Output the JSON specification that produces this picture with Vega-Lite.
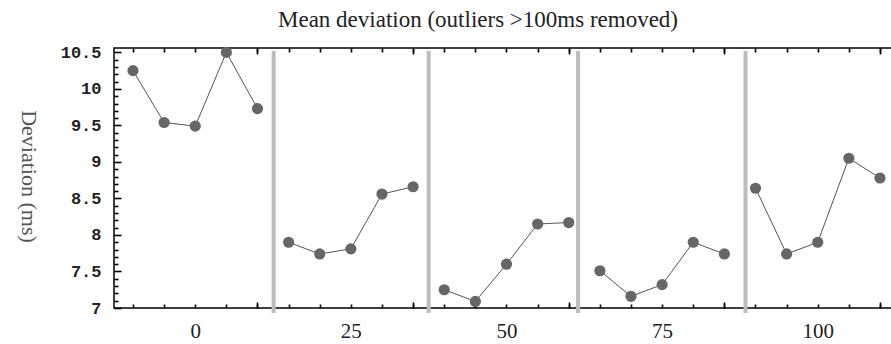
{
  "$schema": "https://vega.github.io/schema/vega-lite/v6.json",
  "autosize": {"type": "none"},
  "width": 778,
  "height": 260,
  "padding": {"left": 114, "top": 48, "right": 0, "bottom": 36},
  "background": "white",
  "config": {"view": {"stroke": "#000000", "strokeWidth": 1.5}, "axis": {"grid": false, "ticks": true, "domain": false, "tickColor": "#000000", "tickOpacity": 1, "tickWidth": 1.6, "zindex": 1}},
  "title": {
    "text": "Mean deviation (outliers >100ms removed)",
    "font": "Liberation Serif",
    "fontSize": 23,
    "fontWeight": "normal",
    "color": "#222222",
    "anchor": "middle",
    "frame": "group",
    "baseline": "alphabetic",
    "offset": -7,
    "dx": -25
  },
  "datasets": {
    "pts": [
      {"x": -10, "y": 10.25, "g": 1}, {"x": -5, "y": 9.54, "g": 1}, {"x": 0, "y": 9.49, "g": 1}, {"x": 5, "y": 10.5, "g": 1}, {"x": 10, "y": 9.73, "g": 1},
      {"x": 15, "y": 7.9, "g": 2}, {"x": 20, "y": 7.74, "g": 2}, {"x": 25, "y": 7.81, "g": 2}, {"x": 30, "y": 8.56, "g": 2}, {"x": 35, "y": 8.66, "g": 2},
      {"x": 40, "y": 7.25, "g": 3}, {"x": 45, "y": 7.09, "g": 3}, {"x": 50, "y": 7.6, "g": 3}, {"x": 55, "y": 8.15, "g": 3}, {"x": 60, "y": 8.17, "g": 3},
      {"x": 65, "y": 7.51, "g": 4}, {"x": 70, "y": 7.16, "g": 4}, {"x": 75, "y": 7.32, "g": 4}, {"x": 80, "y": 7.9, "g": 4}, {"x": 85, "y": 7.74, "g": 4},
      {"x": 90, "y": 8.64, "g": 5}, {"x": 95, "y": 7.74, "g": 5}, {"x": 100, "y": 7.9, "g": 5}, {"x": 105, "y": 9.05, "g": 5}, {"x": 110, "y": 8.78, "g": 5}
    ],
    "seps": [
      {"sx": 12.6, "top": 10.52, "bot": 6.93},
      {"sx": 37.5, "top": 10.52, "bot": 6.93},
      {"sx": 61.5, "top": 10.52, "bot": 6.93},
      {"sx": 88.4, "top": 10.52, "bot": 6.93}
    ]
  },
  "resolve": {"axis": {"x": "independent", "y": "independent"}},
  "layer": [
    {
      "data": {"name": "seps"},
      "mark": {"type": "rule", "color": "#bdbdbd", "strokeWidth": 4, "clip": false},
      "encoding": {
        "x": {
          "field": "sx", "type": "quantitative",
          "scale": {"domain": [-13.05, 111.93], "nice": false, "zero": false},
          "axis": {
            "orient": "top", "title": null, "labels": false, "offset": -4,
            "values": [-10, -5, 0, 5, 10, 15, 20, 25, 30, 35, 40, 45, 50, 55, 60, 65, 70, 75, 80, 85, 90, 95, 100, 105, 110],
            "tickSize": 4
          }
        },
        "y": {
          "field": "top", "type": "quantitative",
          "scale": {"domain": [7, 10.56], "nice": false, "zero": false},
          "axis": {
            "orient": "left", "title": null, "labels": false, "offset": -4,
            "values": [7.1, 7.2, 7.3, 7.4, 7.6, 7.7, 7.8, 7.9, 8.1, 8.2, 8.3, 8.4, 8.6, 8.7, 8.8, 8.9, 9.1, 9.2, 9.3, 9.4, 9.6, 9.7, 9.8, 9.9, 10.1, 10.2, 10.3, 10.4],
            "tickSize": 4
          }
        },
        "y2": {"field": "bot"}
      }
    },
    {
      "data": {"name": "seps"},
      "mark": {"type": "rule", "opacity": 0, "clip": false},
      "encoding": {
        "x": {
          "field": "sx", "type": "quantitative",
          "axis": {
            "orient": "bottom", "title": null, "labels": false, "offset": -6,
            "values": [10, 35, 60, 85, 110],
            "tickSize": 6
          }
        }
      }
    },
    {
      "data": {"name": "pts"},
      "mark": {"type": "line", "color": "#555555", "strokeWidth": 1},
      "encoding": {
        "x": {
          "field": "x", "type": "quantitative",
          "axis": {
            "orient": "bottom",
            "title": null,
            "offset": -4,
            "values": [-10, -5, 0, 5, 10, 15, 20, 25, 30, 35, 40, 45, 50, 55, 60, 65, 70, 75, 80, 85, 90, 95, 100, 105, 110],
            "labelExpr": "datum.value % 25 === 0 ? format(datum.value, 'd') : ''",
            "labelFont": "Liberation Serif",
            "labelFontSize": 21,
            "labelColor": "#222222",
            "labelPadding": 12,
            "labelOverlap": false,
            "labelFlush": false,
            "labelBound": false,
            "tickSize": 4
          }
        },
        "y": {
          "field": "y", "type": "quantitative",
          "axis": {
            "orient": "left",
            "offset": -7,
            "title": "Deviation (ms)",
            "titleFont": "Liberation Serif",
            "titleFontSize": 22,
            "titleFontWeight": "normal",
            "titleColor": "#555555",
            "titleAngle": 90,
            "titleAlign": "center",
            "titleBaseline": "middle",
            "titleX": -93,
            "titleY": 128,
            "values": [7, 7.5, 8, 8.5, 9, 9.5, 10, 10.5],
            "labelExpr": "format(datum.value, '~g')",
            "labelFont": "Liberation Mono",
            "labelFontSize": 17,
            "labelFontWeight": "bold",
            "labelColor": "#222222",
            "labelPadding": 13,
            "labelOverlap": false,
            "labelBound": false,
            "labelFlush": false,
            "tickSize": 7
          }
        },
        "detail": {"field": "g", "type": "nominal"}
      }
    },
    {
      "data": {"name": "pts"},
      "mark": {"type": "point", "filled": true, "shape": "circle", "size": 125, "color": "#666666", "opacity": 1},
      "encoding": {
        "x": {
          "field": "x", "type": "quantitative",
          "axis": {
            "orient": "top", "title": null, "labels": false, "offset": -6,
            "values": [10, 35, 60, 85, 110],
            "tickSize": 6
          }
        },
        "y": {"field": "y", "type": "quantitative", "axis": null}
      }
    }
  ]
}
